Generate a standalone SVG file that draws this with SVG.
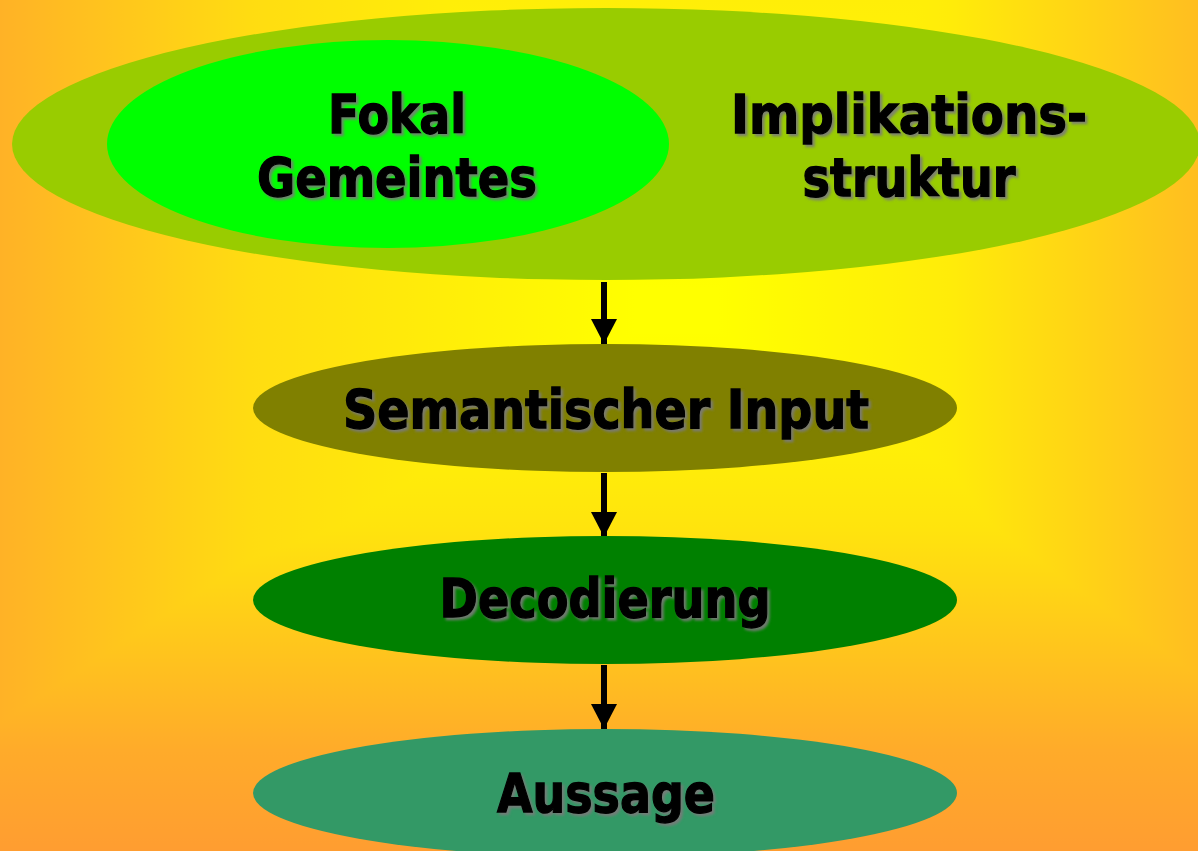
<svg xmlns="http://www.w3.org/2000/svg" width="1198" height="851" viewBox="0 0 1198 851">
  <defs>
    <linearGradient id="gh" gradientUnits="userSpaceOnUse" x1="0" y1="0" x2="1198" y2="0">
      <stop offset="0" stop-color="rgb(255,178,38)"/>
      <stop offset="0.209" stop-color="rgb(255,220,18)"/>
      <stop offset="0.53" stop-color="rgb(255,255,0)"/>
      <stop offset="0.6" stop-color="rgb(255,255,0)"/>
      <stop offset="0.793" stop-color="rgb(255,236,10)"/>
      <stop offset="1" stop-color="rgb(255,190,32)"/>
    </linearGradient>
    <linearGradient id="gv" gradientUnits="userSpaceOnUse" x1="0" y1="0" x2="0" y2="851">
      <stop offset="0" stop-color="rgb(255,238,9)"/>
      <stop offset="0.34" stop-color="rgb(255,255,0)"/>
      <stop offset="0.39" stop-color="rgb(255,255,0)"/>
      <stop offset="0.62" stop-color="rgb(255,228,14)"/>
      <stop offset="0.882" stop-color="rgb(255,171,42)"/>
      <stop offset="1" stop-color="rgb(255,157,49)"/>
    </linearGradient>
    <filter id="fix" x="0" y="0" width="1" height="1" color-interpolation-filters="sRGB">
      <feColorMatrix type="matrix" values="0 0 0 0 1  0 1 0 0 0  0 -0.5 0 0 0.5  0 0 0 1 0"/>
    </filter>
    <filter id="sh" x="-10%" y="-20%" width="120%" height="150%" color-interpolation-filters="sRGB">
      <feDropShadow dx="2.5" dy="2.5" stdDeviation="1" flood-color="#7a7a7a" flood-opacity="0.9"/>
    </filter>
    <marker id="ah" markerUnits="userSpaceOnUse" markerWidth="26" markerHeight="26" refX="25" refY="13" orient="auto" viewBox="0 0 26 26">
      <path d="M0,0 L25,13 L0,26 Z" fill="#000"/>
    </marker>
    <style>
      .t { font-family: "DejaVu Sans", Verdana, sans-serif; font-weight: bold; font-size: 54px; fill: #000; stroke: #000; stroke-width: 1.3px; text-anchor: middle; filter: url(#sh); }
      .c { stroke: #000; stroke-width: 6; fill: none; marker-end: url(#ah); }
    </style>
  </defs>
  <g id="background" style="isolation:isolate" filter="url(#fix)">
    <rect width="1198" height="851" fill="url(#gh)"/>
    <rect width="1198" height="851" fill="url(#gv)" style="mix-blend-mode:darken"/>
  </g>
  <g id="outer">
    <ellipse cx="606" cy="144" rx="594" ry="136" fill="#99cc00"/>
    <text class="t" x="909" y="133" textLength="356" lengthAdjust="spacingAndGlyphs">Implikations-</text>
    <text class="t" x="909" y="196" textLength="213" lengthAdjust="spacingAndGlyphs">struktur</text>
  </g>
  <g id="focal">
    <ellipse cx="388" cy="144" rx="281" ry="104" fill="#00ff00"/>
    <text class="t" x="397" y="133" textLength="138" lengthAdjust="spacingAndGlyphs">Fokal</text>
    <text class="t" x="397" y="196" textLength="280" lengthAdjust="spacingAndGlyphs">Gemeintes</text>
  </g>
  <g id="connectors">
    <line class="c" x1="604" y1="282" x2="604" y2="344"/>
    <line class="c" x1="604" y1="473" x2="604" y2="537"/>
    <line class="c" x1="604" y1="665" x2="604" y2="729"/>
  </g>
  <g id="semantic">
    <ellipse cx="605" cy="408" rx="352" ry="64" fill="#808000"/>
    <text class="t" x="606" y="428" textLength="526" lengthAdjust="spacingAndGlyphs">Semantischer Input</text>
  </g>
  <g id="decod">
    <ellipse cx="605" cy="600" rx="352" ry="64" fill="#008000"/>
    <text class="t" x="605" y="617" textLength="331" lengthAdjust="spacingAndGlyphs">Decodierung</text>
  </g>
  <g id="aussage">
    <ellipse cx="605" cy="793" rx="352" ry="64" fill="#339966"/>
    <text class="t" x="606" y="812" textLength="218" lengthAdjust="spacingAndGlyphs">Aussage</text>
  </g>
</svg>
